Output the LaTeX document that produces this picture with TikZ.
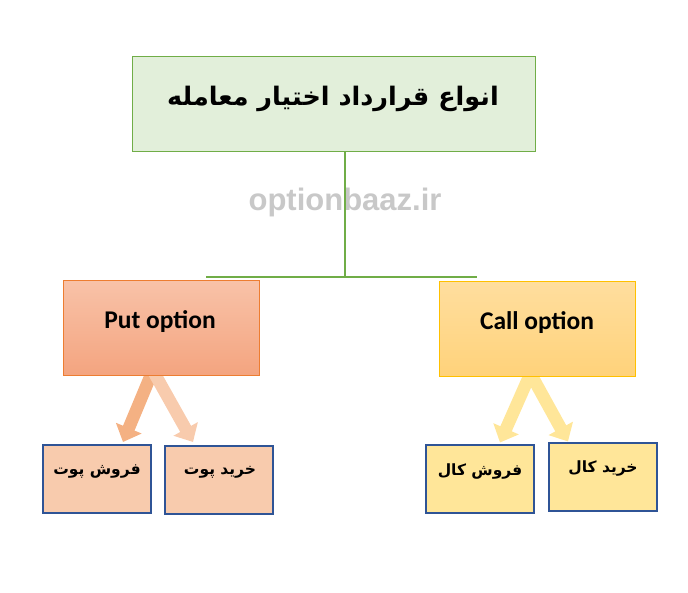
\documentclass[tikz,border=0pt]{standalone}
\usepackage{fontspec}
\setmainfont{Carlito}
\newfontfamily\arabicfont[Script=Arabic]{DejaVu Sans}
\newfontfamily\wmfont{Liberation Sans}
\TeXXeTstate=1
\usetikzlibrary{arrows.meta}
\definecolor{tgreenfill}{HTML}{E2EFDA}
\definecolor{tgreen}{HTML}{70AD47}
\definecolor{putborder}{HTML}{ED7D31}
\definecolor{puttop}{HTML}{F8C2A8}
\definecolor{putbot}{HTML}{F4A47F}
\definecolor{callborder}{HTML}{FFC000}
\definecolor{calltop}{HTML}{FFDE9E}
\definecolor{callbot}{HTML}{FFD27A}
\definecolor{smallput}{HTML}{F8CBAD}
\definecolor{smallcall}{HTML}{FFE699}
\definecolor{smallborder}{HTML}{2F5496}
\definecolor{arrowdark}{HTML}{F4B183}
\definecolor{arrowlight}{HTML}{F8CBAD}
\definecolor{wmgray}{HTML}{C8C8C8}
\begin{document}
\begin{tikzpicture}[x=1pt,y=-1pt,
  titlebox/.style={draw=tgreen,fill=tgreenfill,line width=1pt,minimum width=403pt,minimum height=95pt,inner sep=0pt},
  bigbox/.style={line width=1pt,minimum width=196pt,minimum height=95pt,inner sep=0pt},
  smallbox/.style={draw=smallborder,line width=2pt,minimum width=108pt,minimum height=68pt,inner sep=0pt},
  artext/.style={font=\arabicfont\bfseries\fontsize{15.5}{18}\selectfont,inner sep=0pt},
  entext/.style={font=\bfseries\fontsize{25.5}{28}\selectfont,inner sep=0pt},
  connector/.style={draw=tgreen,line width=2pt},
  blockarrow/.style={line width=12.5pt,-{Triangle[width=27pt,length=15pt]}}
]
\useasboundingbox (0,0) rectangle (688,593);
% watermark
\node[font=\wmfont\bfseries\fontsize{31}{34}\selectfont,text=wmgray,inner sep=0pt] (wm) at (345,202) {optionbaaz.ir};
% title box
\node[titlebox] (top) at (333.5,104.5) {};
\node[font=\arabicfont\bfseries\fontsize{25.5}{30}\selectfont,inner sep=0pt] (toptext) at (333,99) {\beginR انواع قرارداد اختیار معامله\endR};
% connectors
\coordinate (junction) at (345,277);
\coordinate (hleft) at (206,277);
\coordinate (hright) at (477,277);
\draw[connector] ([xshift=11.5pt]top.south) -- (junction);
\draw[connector] (hleft) -- (hright);
% small boxes
\node[smallbox,fill=smallput] (pf) at (97,479) {};
\node[smallbox,fill=smallput] (pk) at (219,480) {};
\node[smallbox,fill=smallcall] (cf) at (479.5,478.5) {};
\node[smallbox,fill=smallcall] (ck) at (603,476.5) {};
% put / call boxes placeholders for anchors
\path (161,328.5) node[bigbox] (put) {};
\path (537.5,329.5) node[bigbox] (call) {};
% arrows
\draw[blockarrow,arrowdark] ([xshift=-9pt,yshift=4pt]put.south) -- ([xshift=26pt,yshift=2pt]pf.north);
\draw[blockarrow,arrowlight] ([xshift=-7pt,yshift=4pt]put.south) -- ([xshift=-26pt,yshift=3pt]pk.north);
\draw[blockarrow,smallcall] ([xshift=-7pt,yshift=4pt]call.south) -- ([xshift=20.5pt,yshift=1pt]cf.north);
\draw[blockarrow,smallcall] ([xshift=-7pt,yshift=4pt]call.south) -- ([xshift=-35pt,yshift=0pt]ck.north);
% put / call boxes drawn on top
\node[bigbox,draw=putborder,top color=puttop,bottom color=putbot] at (put.center) {};
\node[bigbox,draw=callborder,top color=calltop,bottom color=callbot] at (call.center) {};
\node[entext] (puttext) at (160,322) {Put option};
\node[entext] (calltext) at (537,323) {Call option};
% small box texts
\node[artext] (pftext) at (97,472) {\beginR فروش پوت\endR};
\node[artext] (pktext) at (220,472) {\beginR خرید پوت\endR};
\node[artext] (cftext) at (480,472) {\beginR فروش کال\endR};
\node[artext] (cktext) at (603,469) {\beginR خرید کال\endR};
\end{tikzpicture}
\end{document}
